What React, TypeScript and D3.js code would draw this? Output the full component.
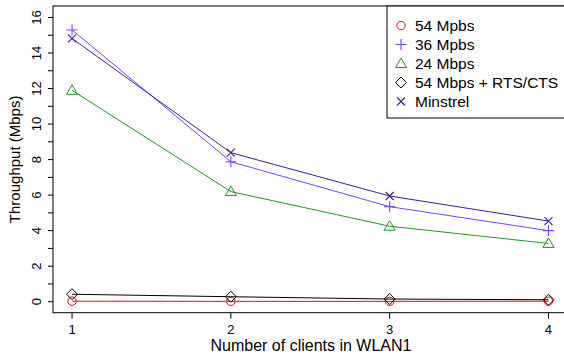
import React from "react";
import * as d3 from "d3";

const clients = [1, 2, 3, 4];
const rate54 = [0.03, 0.02, 0.02, 0.03];
const rate36 = [15.3, 7.88, 5.35, 4.0];
const rate24 = [11.9, 6.2, 4.25, 3.28];
const rate54rts = [0.42, 0.28, 0.15, 0.11];
const minstrel = [14.82, 8.39, 5.95, 4.54];
const yTicks = [0, 2, 4, 6, 8, 10, 12, 14, 16];
const yMinor = d3.range(0, 17);

const series = [
  { name: "54 Mpbs", values: rate54, color: "#ff0000", shape: "circle" },
  { name: "36 Mpbs", values: rate36, color: "#7f3fff", shape: "plus" },
  { name: "24 Mbps", values: rate24, color: "#1f961f", shape: "triangle" },
  { name: "54 Mbps + RTS/CTS", values: rate54rts, color: "#000000", shape: "diamond" },
  { name: "Minstrel", values: minstrel, color: "#3b1f8f", shape: "cross" },
];

const W = 564;
const H = 355;
const left = 53;
const top = 6;
const bottom = 312.7;
const font = "Liberation Sans, Arial, Helvetica, sans-serif";

const x = d3.scaleLinear().domain([0.88, 4.12]).range([left, left + 3.24 * 158.8]);
const y = d3.scaleLinear().domain([0, 16]).range([301.7, 17.5]);

function Marker({ shape, cx, cy, color }: { shape: string; cx: number; cy: number; color: string }) {
  const s = 5;
  if (shape === "circle") return <circle cx={cx} cy={cy} r={4.2} fill="none" stroke={color} strokeWidth={1} />;
  if (shape === "plus")
    return <path d={`M${cx - s - 0.5},${cy}H${cx + s + 0.5}M${cx},${cy - s - 0.5}V${cy + s + 0.5}`} stroke={color} strokeWidth={1.1} />;
  if (shape === "triangle")
    return <path d={`M${cx},${cy - 5.5}L${cx + 5.5},${cy + 4}L${cx - 5.5},${cy + 4}Z`} fill="none" stroke={color} strokeWidth={1} />;
  if (shape === "diamond")
    return <path d={`M${cx},${cy - 5.5}L${cx + 5.5},${cy}L${cx},${cy + 5.5}L${cx - 5.5},${cy}Z`} fill="none" stroke={color} strokeWidth={1} />;
  return <path d={`M${cx - 4},${cy - 4}L${cx + 4},${cy + 4}M${cx - 4},${cy + 4}L${cx + 4},${cy - 4}`} stroke={color} strokeWidth={1.1} />;
}

export default function App() {
  const line = d3
    .line<number>()
    .x((_, i) => x(clients[i]))
    .y((d) => y(d));

  return (
    <svg width={W} height={H} style={{ position: "absolute", left: 0, top: 0 }} fontFamily={font}>
      <rect width={W} height={H} fill="white" />
      {/* plot frame */}
      <rect x={left} y={top} width={x.range()[1] - left} height={bottom - top} fill="none" stroke="#000" strokeWidth={1} />

      {/* y axis */}
      {yMinor.map((t) => (
        <line key={t} x1={left - 5} x2={left} y1={y(t)} y2={y(t)} stroke="#000" />
      ))}
      {yTicks.map((t) => (
        <text
          key={t}
          transform={`translate(${left - 12},${y(t)}) rotate(-90)`}
          textAnchor="middle"
          fontSize={13}
        >
          {t}
        </text>
      ))}
      <text transform={`translate(20,${(top + bottom) / 2}) rotate(-90)`} textAnchor="middle" fontSize={15}>
        Throughput (Mbps)
      </text>

      {/* x axis */}
      {clients.map((c) => (
        <g key={c}>
          <line x1={x(c)} x2={x(c)} y1={bottom} y2={bottom + 6} stroke="#000" />
          <text x={x(c)} y={bottom + 21} textAnchor="middle" fontSize={13}>
            {c}
          </text>
        </g>
      ))}
      <text x={311} y={351} textAnchor="middle" fontSize={16}>
        Number of clients in WLAN1
      </text>

      {/* series */}
      {series.map((s) => (
        <g key={s.name}>
          <path d={line(s.values) || ""} fill="none" stroke={s.color} strokeWidth={1} />
          {s.values.map((v, i) => (
            <Marker key={i} shape={s.shape} cx={x(clients[i])} cy={y(v)} color={s.color} />
          ))}
        </g>
      ))}

      {/* legend */}
      <rect x={387} y={top} width={200} height={112} fill="white" stroke="#000" strokeWidth={1} />
      {series.map((s, i) => (
        <g key={s.name}>
          <Marker shape={s.shape} cx={401} cy={25.5 + i * 19} color={s.color} />
          <text x={415} y={25.5 + i * 19 + 5.5} fontSize={15.5}>
            {s.name}
          </text>
        </g>
      ))}
    </svg>
  );
}
